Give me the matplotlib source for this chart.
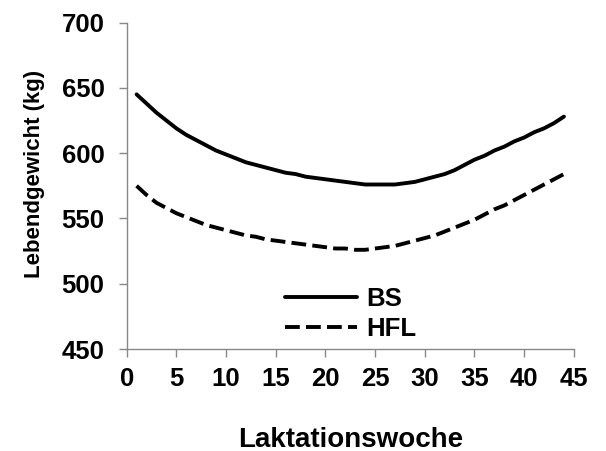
import matplotlib.pyplot as plt
import numpy as np

plt.rcParams['font.family'] = ['Liberation Sans', 'DejaVu Sans']

# Laktationswoche 1..44
wochen = list(range(1, 45))

bs = [645, 638, 631, 625, 619, 614, 610, 606, 602, 599,
      596, 593, 591, 589, 587, 585, 584, 582, 581, 580,
      579, 578, 577, 576, 576, 576, 576, 577, 578, 580,
      582, 584, 587, 591, 595, 598, 602, 605, 609, 612,
      616, 619, 623, 628]

hfl = [575, 568, 562, 558, 554, 551, 548, 545, 543, 541,
       539, 537, 536, 534, 533, 532, 531, 530, 529, 528,
       527, 527, 526, 526, 527, 528, 529, 531, 533, 535,
       537, 540, 543, 546, 549, 553, 557, 560, 564, 568,
       572, 576, 580, 584]

xticks = [0, 5, 10, 15, 20, 25, 30, 35, 40, 45]
yticks = [450, 500, 550, 600, 650, 700]

fig = plt.figure(figsize=(6.06, 4.51), dpi=100)
ax = fig.add_axes([0.209, 0.226, 0.738, 0.724])

ax.plot(wochen, bs, color="black", lw=2.8, solid_capstyle="round", label="BS")
ax.plot(wochen, hfl, color="black", lw=2.8, dashes=(3.8, 1.6),
        dash_capstyle="butt", label="HFL")

ax.set_xlim(0, 45)
ax.set_ylim(450, 700)
ax.set_xticks(xticks)
ax.set_yticks(yticks)

for s in ["top", "right"]:
    ax.spines[s].set_visible(False)
for s in ["left", "bottom"]:
    ax.spines[s].set_color("#888888")
    ax.spines[s].set_linewidth(1)

ax.tick_params(direction="out", length=6, width=1, color="#888888",
               labelsize=18.5)
ax.tick_params(axis="x", pad=7)
ax.tick_params(axis="y", pad=10)
for lab in ax.get_xticklabels() + ax.get_yticklabels():
    lab.set_fontweight("bold")

ax.set_xlabel("Laktationswoche", fontsize=20, fontweight="bold", va="center")
ax.xaxis.set_label_coords(0.5, -0.277)
ax.set_ylabel("Lebendgewicht (kg)", fontsize=16, fontweight="bold", va="center")
ax.yaxis.set_label_coords(-0.207, 0.536)

leg = ax.legend(loc="upper left", bbox_to_anchor=(0.354, 0.19), frameon=False,
                prop={"size": 18.5, "weight": "bold"}, handlelength=2.8,
                handletextpad=0.35, labelspacing=0.25, borderpad=0,
                borderaxespad=0)

fig.savefig("out.png", dpi=100)
